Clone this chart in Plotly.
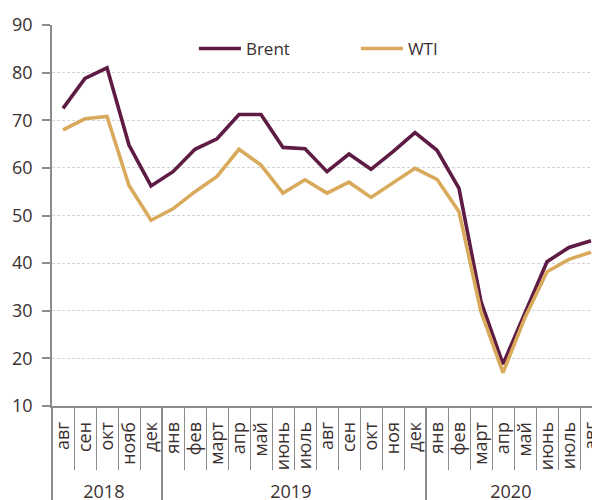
import plotly.graph_objects as go

ZW = "\u200b"  # keeps the 2018 month labels distinct from 2019 ones so the axis keeps data order
years = ["2018"] * 5 + ["2019"] * 12 + ["2020"] * 8
months = ["авг" + ZW, "сен" + ZW, "окт" + ZW, "нояб", "дек" + ZW,
          "янв", "фев", "март", "апр", "май", "июнь", "июль", "авг", "сен", "окт", "ноя", "дек",
          "янв", "фев", "март", "апр", "май", "июнь", "июль", "авг"]
brent = [72.5, 78.8, 81.0, 64.8, 56.2,
         59.2, 63.9, 66.1, 71.2, 71.2, 64.3, 64.0, 59.2, 62.9, 59.7, 63.4, 67.4,
         63.7, 55.7, 31.9, 18.8, 29.4, 40.3, 43.3, 44.7]
wti = [68.0, 70.3, 70.8, 56.3, 49.0,
       51.4, 55.0, 58.2, 63.9, 60.6, 54.7, 57.5, 54.7, 57.0, 53.8, 56.8, 59.9,
       57.6, 50.8, 29.8, 17.0, 28.6, 38.2, 40.8, 42.3]
yticks = [10, 20, 30, 40, 50, 60, 70, 80, 90]

text_color = "#3b3030"
axis_color = "#8c8c8c"

fig = go.Figure()
fig.add_trace(go.Scatter(x=[years, months], y=brent, name="Brent", mode="lines",
                         line=dict(color="#5e1b43", width=3.6)))
fig.add_trace(go.Scatter(x=[years, months], y=wti, name="WTI", mode="lines",
                         line=dict(color="#d9aa5c", width=3.6)))

# page body has an 8px default margin, so the figure is sized/margined to compensate
fig.update_layout(
    width=594, height=492,
    margin=dict(l=44, r=0, t=17, b=94),
    paper_bgcolor="white", plot_bgcolor="white",
    font=dict(family="Open Sans", size=17, color=text_color),
    showlegend=True,
    legend=dict(orientation="h", x=0.258, y=0.937, xanchor="left", yanchor="middle",
                font=dict(size=17, color=text_color), entrywidth=105, itemwidth=42,
                bgcolor="rgba(0,0,0,0)"),
)
fig.update_xaxes(
    type="multicategory", range=[-0.5, 24.5], automargin=False,
    tickmode="linear", tick0=0, dtick=1,
    showline=True, linecolor=axis_color, linewidth=1.5,
    ticks="outside", tickson="boundaries", ticklen=62, tickcolor=axis_color, tickwidth=1,
    tickangle=-90, tickfont=dict(size=18, color=text_color), ticklabelstandoff=7,
    showdividers=True, dividercolor=axis_color, dividerwidth=1.5,
    showgrid=False,
)
fig.update_yaxes(
    range=[10, 90], tickvals=yticks, automargin=False,
    showline=True, linecolor=axis_color, linewidth=1.5,
    ticks="outside", ticklen=8, tickcolor=axis_color, tickwidth=1.5,
    ticklabelstandoff=6,
    showgrid=True, gridcolor="#d4d4d4", gridwidth=1, griddash="3px,2px",
    zeroline=False, tickfont=dict(size=18, color=text_color),
)

fig.write_html("out.html")
